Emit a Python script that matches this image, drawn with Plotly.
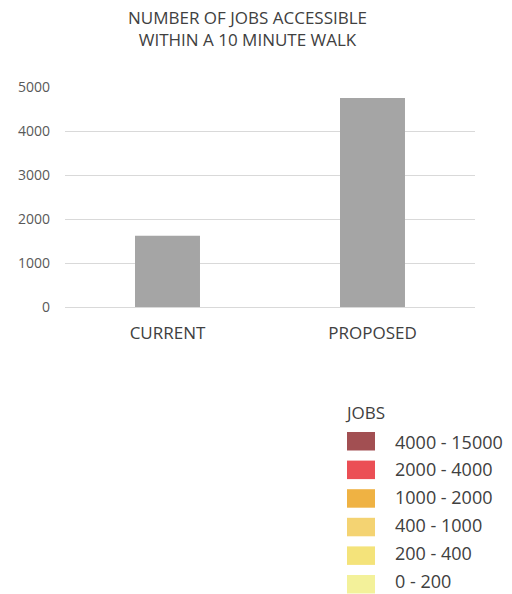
import plotly.graph_objects as go

# Chart data
categories = ["CURRENT", "PROPOSED"]
jobs = [1620, 4750]
y_ticks = [0, 1000, 2000, 3000, 4000, 5000]

# Map legend
legend_title = "JOBS"
legend_labels = ["4000 - 15000", "2000 - 4000", "1000 - 2000", "400 - 1000", "200 - 400", "0 - 200"]
legend_colors = ["#a24f52", "#eb4f55", "#efb243", "#f4d372", "#f4e37a", "#f3f19a"]

W, H = 512, 594
M_L, M_R, M_T, M_B = 65, 37, 87, 287
FONT = "Open Sans"

fig = go.Figure(
    go.Bar(
        x=categories,
        y=jobs,
        marker=dict(color="#a5a5a5", line=dict(width=0)),
        width=0.317,
        showlegend=False,
    )
)


def py(pixel_y):
    """Convert a pixel row in the page to paper y."""
    plot_h = H - M_T - M_B
    return (H - M_B - pixel_y) / plot_h


def px(pixel_x):
    plot_w = W - M_L - M_R
    return (pixel_x - M_L) / plot_w


shapes = []
annotations = [
    dict(
        text="NUMBER OF JOBS ACCESSIBLE<br>WITHIN A 10 MINUTE WALK",
        xref="paper", yref="paper", x=px(247), y=py(29),
        xanchor="center", yanchor="middle", align="center",
        showarrow=False, font=dict(family=FONT, size=17, color="#404040"),
    ),
    dict(
        text=legend_title, xref="paper", yref="paper",
        x=px(343), y=py(412), xanchor="left", yanchor="middle",
        showarrow=False, font=dict(family=FONT, size=17, color="#404040"),
    ),
]
swatch_top, swatch_step = 432, 28.6
label_mid, label_step = 441.5, 27.8
for i, (lab, col) in enumerate(zip(legend_labels, legend_colors)):
    top = swatch_top + i * swatch_step
    shapes.append(dict(
        type="rect", xref="paper", yref="paper",
        x0=px(347), x1=px(375), y0=py(top + 18.5), y1=py(top),
        fillcolor=col, line=dict(width=0), layer="above",
    ))
    annotations.append(dict(
        text=lab, xref="paper", yref="paper",
        x=px(393), y=py(label_mid + i * label_step), xanchor="left", yanchor="middle",
        showarrow=False, font=dict(family=FONT, size=18, color="#404040"),
    ))

fig.update_layout(
    width=W, height=H,
    margin=dict(l=M_L, r=M_R, t=M_T, b=M_B),
    paper_bgcolor="white", plot_bgcolor="white",
    font=dict(family=FONT, color="#595959"),
    xaxis=dict(
        showgrid=False, showline=False, ticks="",
        tickfont=dict(family=FONT, size=17, color="#404040"),
        ticklabelstandoff=14,
    ),
    yaxis=dict(
        range=[0, 5000], tickvals=y_ticks,
        showgrid=True, gridcolor="#d9d9d9", gridwidth=1,
        zeroline=True, zerolinecolor="#d9d9d9", zerolinewidth=1,
        showline=False, ticks="",
        tickfont=dict(family=FONT, size=14, color="#595959"),
        ticklabelstandoff=14,
    ),
    shapes=shapes,
    annotations=annotations,
    bargap=0.683,
)

fig.write_html("out.html")
